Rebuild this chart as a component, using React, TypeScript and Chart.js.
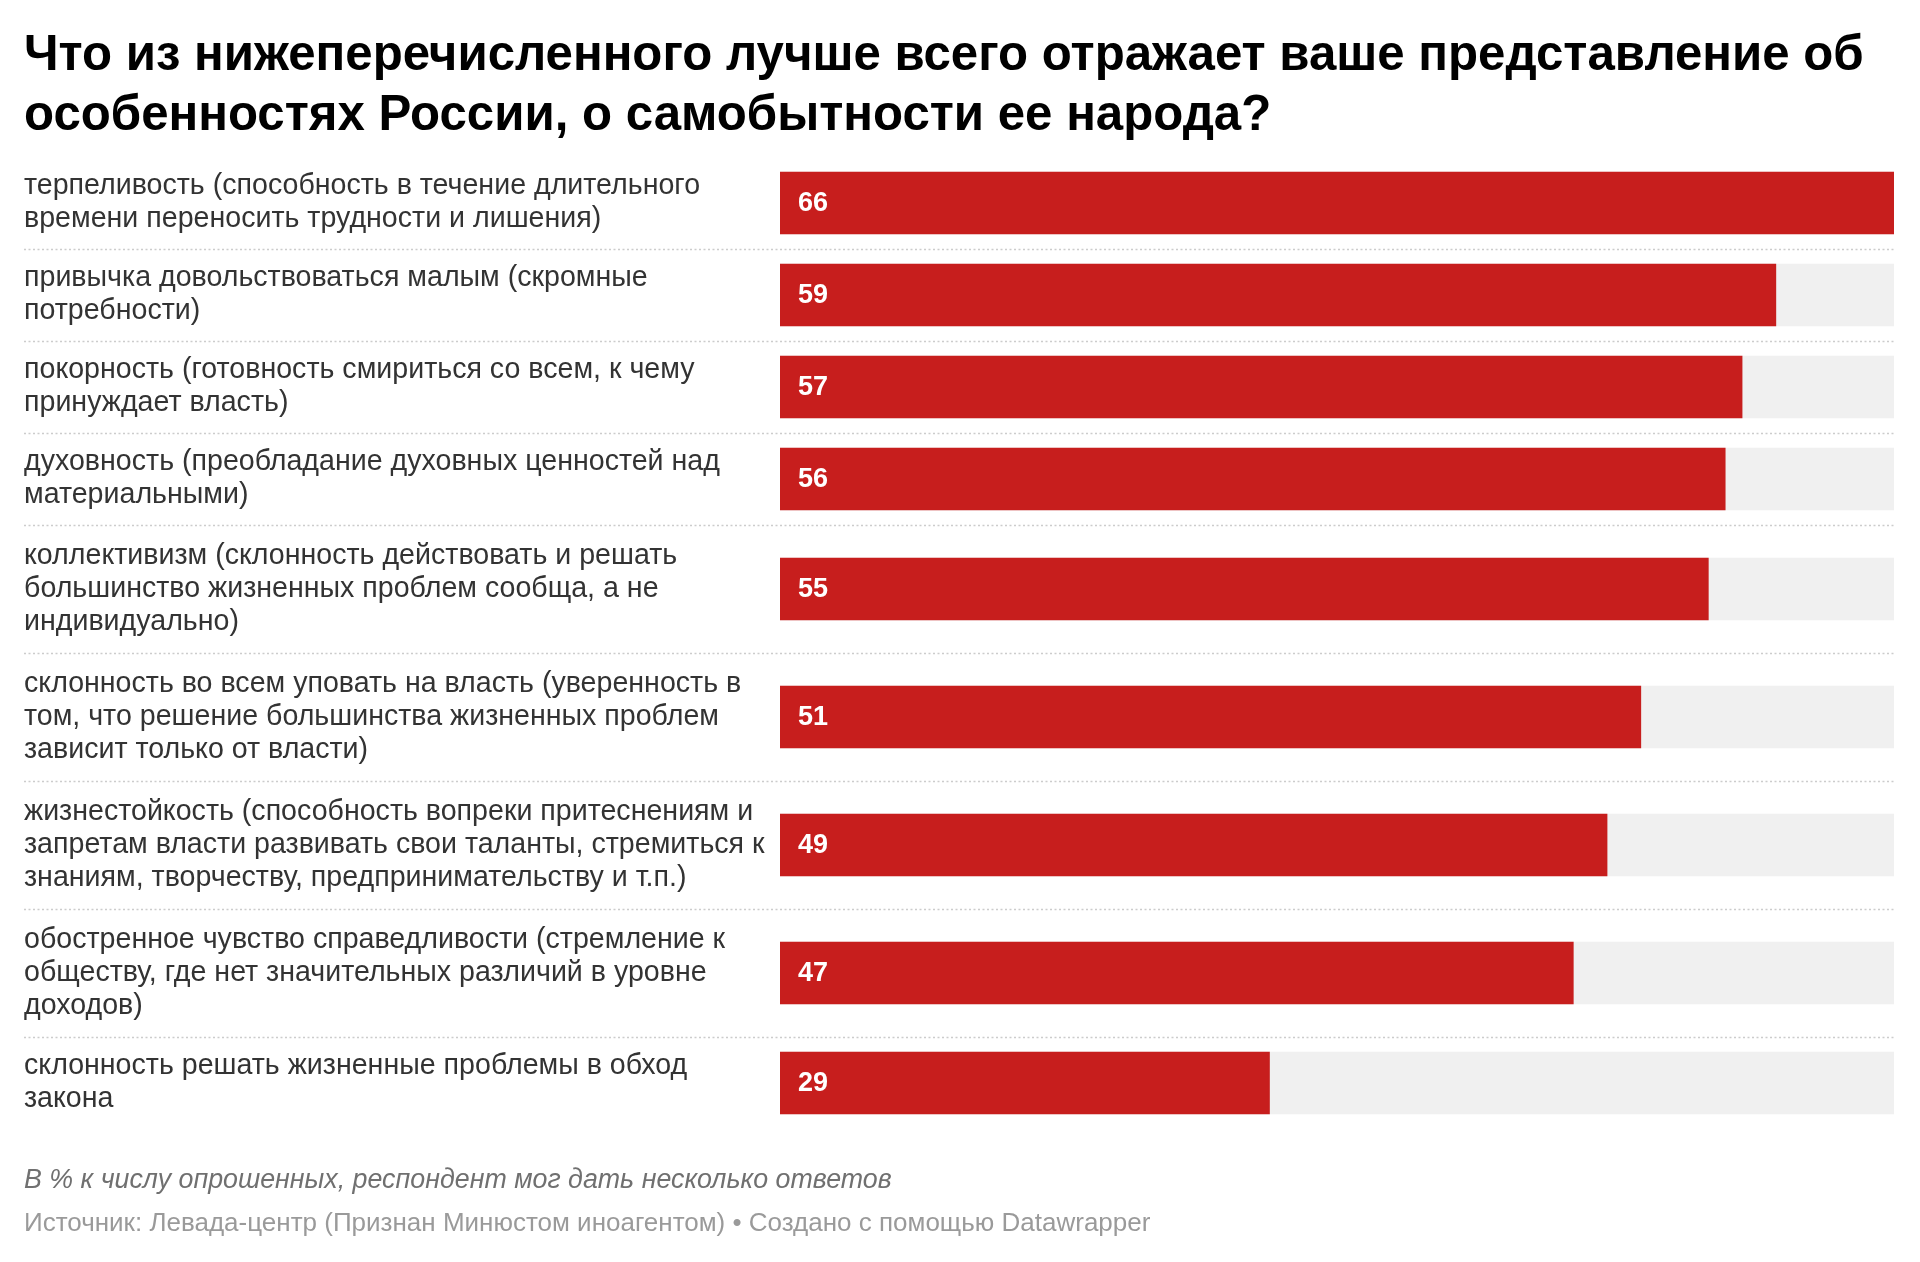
import React, { useEffect, useRef } from "react";
import { Chart, registerables } from "chart.js";

Chart.register(...registerables);

const titleLines: string[] = [
  "Что из нижеперечисленного лучше всего отражает ваше представление об",
  "особенностях России, о самобытности ее народа?",
];

const categories: string[][] = [
  ["терпеливость (способность в течение длительного", "времени переносить трудности и лишения)"],
  ["привычка довольствоваться малым (скромные", "потребности)"],
  ["покорность (готовность смириться со всем, к чему", "принуждает власть)"],
  ["духовность (преобладание духовных ценностей над", "материальными)"],
  ["коллективизм (склонность действовать и решать", "большинство жизненных проблем сообща, а не", "индивидуально)"],
  ["склонность во всем уповать на власть (уверенность в", "том, что решение большинства жизненных проблем", "зависит только от власти)"],
  ["жизнестойкость (способность вопреки притеснениям и", "запретам власти развивать свои таланты, стремиться к", "знаниям, творчеству, предпринимательству и т.п.)"],
  ["обостренное чувство справедливости (стремление к", "обществу, где нет значительных различий в уровне", "доходов)"],
  ["склонность решать жизненные проблемы в обход", "закона"],
];

const values: number[] = [66, 59, 57, 56, 55, 51, 49, 47, 29];

const noteText = "В % к числу опрошенных, респондент мог дать несколько ответов";
const sourceText = "Источник: Левада-центр (Признан Минюстом иноагентом) • Создано с помощью Datawrapper";

const FONT = '"Liberation Sans", Arial, Helvetica, sans-serif';
const LABEL_LINE = 33;
const ROW_PER_LINE = 36;
const ROW_PAD = 20;
const W = 1920;
const H = 1262;
const CHART_TOP = 157;

export default function App() {
  const ref = useRef<HTMLCanvasElement | null>(null);

  useEffect(() => {
    const rowHeights = categories.map((l) => l.length * ROW_PER_LINE + ROW_PAD);
    const bounds: number[] = [0];
    rowHeights.forEach((h) => bounds.push(bounds[bounds.length - 1] + h));
    const centers = rowHeights.map((h, i) => bounds[i] + h / 2);
    const total = bounds[bounds.length - 1];
    const maxVal = Math.max(...values);

    const separatorPlugin = {
      id: "separators",
      afterDraw(chart: any) {
        const { ctx, chartArea } = chart;
        const ys = chart.scales.y;
        ctx.save();
        ctx.strokeStyle = "#cccccc";
        ctx.lineWidth = 1.3;
        ctx.setLineDash([2, 2.5]);
        for (let i = 1; i < bounds.length - 1; i++) {
          const y = Math.round(ys.getPixelForValue(bounds[i])) + 0.5;
          ctx.beginPath();
          ctx.moveTo(24, y);
          ctx.lineTo(chartArea.right, y);
          ctx.stroke();
        }
        ctx.restore();
      },
    };

    const valueLabelPlugin = {
      id: "valueLabels",
      afterDatasetsDraw(chart: any) {
        const { ctx } = chart;
        const meta = chart.getDatasetMeta(0);
        ctx.save();
        ctx.fillStyle = "#ffffff";
        ctx.font = `bold 27px ${FONT}`;
        ctx.textBaseline = "middle";
        ctx.textAlign = "left";
        meta.data.forEach((bar: any, i: number) => {
          ctx.fillText(String(values[i]), bar.base + 18, bar.y + 1);
        });
        ctx.restore();
      },
    };

    const chart = new Chart(ref.current as HTMLCanvasElement, {
      type: "bar",
      data: {
        datasets: [
          {
            label: "value",
            data: values.map((v, i) => ({ x: v, y: centers[i] })),
            backgroundColor: "#c71e1d",
            order: 0,
            grouped: false,
            barThickness: 62,
          } as any,
          {
            label: "bg",
            data: values.map((_, i) => ({ x: maxVal, y: centers[i] })),
            backgroundColor: "#f0f0f0",
            order: 1,
            grouped: false,
            barThickness: 62,
          } as any,
        ],
      },
      options: {
        indexAxis: "y",
        animation: false,
        responsive: false,
        maintainAspectRatio: false,
        layout: { padding: { left: 24, right: 26, top: CHART_TOP, bottom: H - CHART_TOP - total } },
        scales: {
          x: { type: "linear", min: 0, max: maxVal, display: false },
          y: {
            type: "linear",
            reverse: true,
            offset: false,
            min: 0,
            max: total,
            afterBuildTicks: (s: any) => {
              s.ticks = centers.map((c) => ({ value: c }));
            },
            afterFit: (s: any) => {
              s.width = 756;
              s.paddingTop = 0;
              s.paddingBottom = 0;
            },
            ticks: {
              autoSkip: false,
              crossAlign: "far",
              padding: 0,
              color: "#333333",
              font: { family: FONT, size: 28.6, lineHeight: LABEL_LINE / 28.6 },
              callback: (_v: any, i: number) => categories[i],
            },
            grid: { display: false },
            border: { display: false },
          },
        },
        plugins: { legend: { display: false }, tooltip: { enabled: false } },
      } as any,
      plugins: [separatorPlugin, valueLabelPlugin],
    });
    return () => chart.destroy();
  }, []);

  return (
    <div style={{ position: "absolute", left: 0, top: 0, width: W, height: H, background: "#fff", overflow: "hidden" }}>
      <canvas ref={ref} width={W} height={H} style={{ position: "absolute", left: 0, top: 0, width: W, height: H, display: "block" }} />
      <div
        style={{
          position: "absolute",
          left: 24,
          top: 23,
          fontFamily: FONT,
          fontWeight: 700,
          fontSize: 49.2,
          lineHeight: "60px",
          color: "#000",
          whiteSpace: "nowrap",
        }}
      >
        {titleLines.map((t, i) => (
          <div key={i}>{t}</div>
        ))}
      </div>
      <div
        style={{
          position: "absolute",
          left: 24,
          top: 1164,
          fontFamily: FONT,
          fontStyle: "italic",
          fontSize: 26.8,
          lineHeight: "30px",
          color: "#707070",
          whiteSpace: "nowrap",
        }}
      >
        {noteText}
      </div>
      <div
        style={{
          position: "absolute",
          left: 24,
          top: 1207,
          fontFamily: FONT,
          fontSize: 26,
          lineHeight: "30px",
          color: "#9a9a9a",
          whiteSpace: "nowrap",
        }}
      >
        {sourceText}
      </div>
    </div>
  );
}
